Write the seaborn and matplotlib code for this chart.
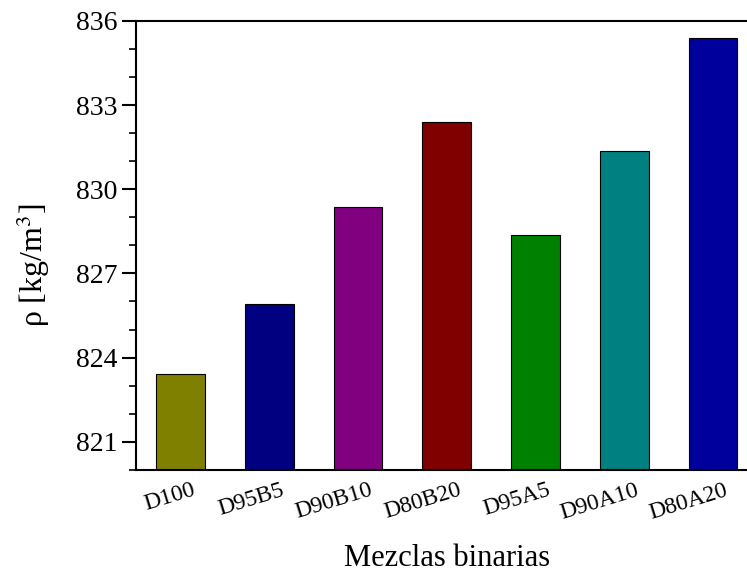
import matplotlib
matplotlib.use("Agg")
import matplotlib.pyplot as plt
import matplotlib.transforms as mtransforms
from matplotlib.ticker import MultipleLocator
import pandas as pd
import seaborn as sns

# Densidad de las mezclas binarias
mezclas = ['D100', 'D95B5', 'D90B10', 'D80B20', 'D95A5', 'D90A10', 'D80A20']
densidad = [823.42, 825.9, 829.38, 832.4, 828.38, 831.35, 835.38]
colores = ['#808000', '#000080', '#800080', '#800000', '#008000', '#008080', '#00009C']

df = pd.DataFrame({'mezcla': mezclas, 'rho': densidad})

sns.set_style("white")
plt.rcParams['font.family'] = ['Liberation Serif', 'DejaVu Serif']
plt.rcParams['mathtext.fontset'] = 'stix'
plt.rcParams['text.color'] = 'black'
plt.rcParams['axes.labelcolor'] = 'black'
plt.rcParams['xtick.color'] = 'black'
plt.rcParams['ytick.color'] = 'black'

fig = plt.figure(figsize=(7.47, 5.73), dpi=100)
ax = fig.add_axes([0.182, 0.18, 0.832, 0.7836])

sns.barplot(data=df, x='mezcla', y='rho', hue='mezcla', palette=colores,
            saturation=1, width=0.55, edgecolor='black', linewidth=0.8,
            legend=False, ax=ax)

ax.set_ylim(820, 836)
ax.set_xlim(-0.5, 6.5)
ax.set_yticks([821, 824, 827, 830, 833, 836])
ax.yaxis.set_minor_locator(MultipleLocator(1))
ax.tick_params(axis='y', which='major', direction='out', length=10, width=1.5,
               labelsize=20, left=True)
ax.tick_params(axis='y', which='minor', direction='out', length=5, width=1.2, left=True)
ax.tick_params(axis='x', length=0, labelsize=17, pad=7)

offset = mtransforms.ScaledTranslation(8 / 72, 0, fig.dpi_scale_trans)
for lab in ax.get_xticklabels():
    lab.set_rotation(17)
    lab.set_ha('right')
    lab.set_va('top')
    lab.set_rotation_mode('anchor')
    lab.set_transform(lab.get_transform() + offset)

for side in ['left', 'bottom', 'top', 'right']:
    ax.spines[side].set_linewidth(1.5)
    ax.spines[side].set_color('black')

ax.set_xlabel('Mezclas binarias', fontsize=22, labelpad=15)
ax.set_ylabel('ρ [kg/m$^3$]', fontsize=23)
ax.yaxis.set_label_coords(-0.135, 0.455)

fig.savefig('out.png', dpi=100)
